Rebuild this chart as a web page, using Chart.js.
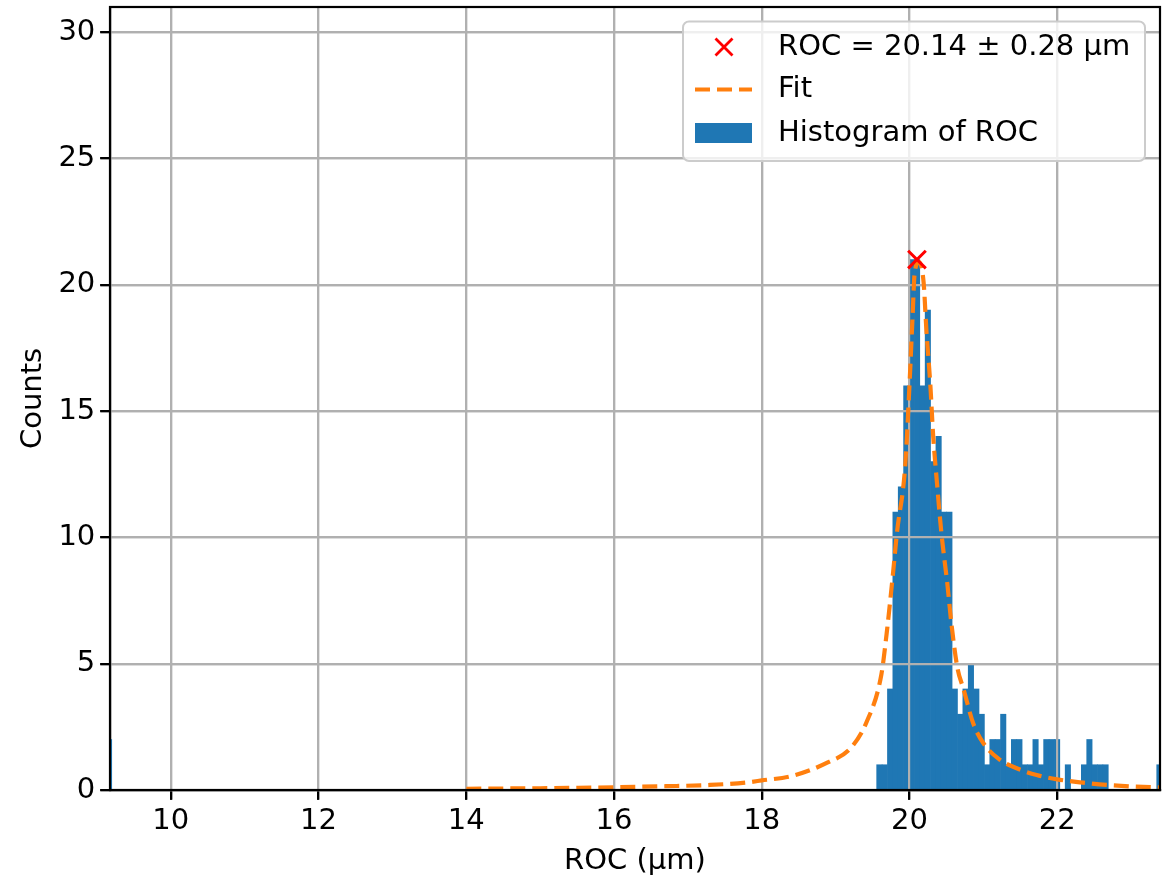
<!DOCTYPE html>
<html>
<head>
<meta charset="utf-8">
<script src="https://cdn.jsdelivr.net/npm/chart.js@4.4.1/dist/chart.umd.min.js"></script>
<style>
  html, body { margin: 0; padding: 0; background: #fff; }
  #rocChart { display: block; }
</style>
</head>
<body>
<canvas id="rocChart" width="1163" height="881"></canvas>
<script>
// histogram of ROC (µm) - bins
const binStart = 19.555;
const binWidth = 0.0729;
const binCounts = [1, 1, 4, 11, 12, 16, 21, 21, 16, 19, 13, 14, 11, 11, 4, 3, 4, 5, 4, 3,
                   1, 2, 2, 3, 1, 2, 2, 1, 1, 2, 1, 2, 2, 2, 0, 1, 0, 0, 1, 2,
                   1, 1, 1, 0, 0, 0, 0, 0, 0, 0, 0, 0, 1];
// lone bin sitting on the left edge
const outlierX = [9.164];
const outlierCounts = [2];

// fit curve
const fitX = [14.0, 15.0, 16.0, 16.7, 17.3, 17.8, 18.0, 18.4, 18.9, 19.2, 19.42, 19.62, 19.69, 19.77,
              19.83, 19.94, 20.0, 20.04, 20.07, 20.13, 20.19, 20.23, 20.28, 20.32, 20.37, 20.43,
              20.51, 20.57, 20.65, 20.73, 20.86, 21.0, 21.22, 21.45, 21.72, 22.0, 22.35, 22.67, 23.0, 23.39];
const fitY = [0.05, 0.07, 0.11, 0.15, 0.2, 0.3, 0.38, 0.55, 1.1, 1.65, 2.7, 4.6, 6.2, 8.4,
              10.2, 12.8, 16.1, 18.7, 20.5, 20.9, 20.1, 18.1, 16.1, 14.0, 12.2, 10.2,
              8.2, 6.5, 4.8, 4.0, 2.65, 1.85, 1.2, 0.86, 0.59, 0.42, 0.29, 0.2, 0.14, 0.1];

// peak marker
const peakX = [20.10];
const peakY = [21];

const xTicks = [10, 12, 14, 16, 18, 20, 22];
const yTicks = [0, 5, 10, 15, 20, 25, 30];
const xRange = [9.177, 23.39];
const yRange = [0, 31];

const histPoints = outlierX.map((x, i) => ({ x: x, y: outlierCounts[i] }))
    .concat(binCounts.map((c, j) => ({ x: binStart + (j + 0.5) * binWidth, y: c })));
const fitPoints = fitX.map((x, i) => ({ x: x, y: fitY[i] }));
const peakPoints = peakX.map((x, i) => ({ x: x, y: peakY[i] }));

Chart.defaults.font.family = 'DejaVu Sans';
Chart.defaults.font.size = 29;
Chart.defaults.color = '#000';

// matplotlib puts the grid above the bars but under the line
const gridOverBars = {
    id: 'gridOverBars',
    afterDatasetDraw(chart, args) {
        if (args.meta.type !== 'bar') return;
        chart.scales.x.drawGrid(chart.chartArea);
        chart.scales.y.drawGrid(chart.chartArea);
    }
};

const frame = {
    id: 'frame',
    afterDatasetsDraw(chart) {
        const { ctx, chartArea: a } = chart;
        ctx.save();
        ctx.strokeStyle = '#000';
        ctx.lineWidth = 2.2;
        ctx.strokeRect(a.left, a.top, a.right - a.left, a.bottom - a.top);
        ctx.restore();
    }
};

const boxLegend = {
    id: 'boxLegend',
    afterDraw(chart) {
        const ctx = chart.ctx;
        const ds = chart.data.datasets;
        const bx = 683, by = 21.5, bw = 462, bh = 139.5;
        ctx.save();
        ctx.beginPath();
        ctx.roundRect(bx, by, bw, bh, 6);
        ctx.fillStyle = 'rgba(255,255,255,0.8)';
        ctx.fill();
        ctx.strokeStyle = '#cccccc';
        ctx.lineWidth = 2;
        ctx.stroke();

        const rows = [47, 89.5, 133];
        // marker
        ctx.strokeStyle = ds[0].borderColor;
        ctx.lineWidth = 2.8;
        ctx.beginPath();
        ctx.moveTo(724 - 8.5, rows[0] - 8.5); ctx.lineTo(724 + 8.5, rows[0] + 8.5);
        ctx.moveTo(724 - 8.5, rows[0] + 8.5); ctx.lineTo(724 + 8.5, rows[0] - 8.5);
        ctx.stroke();
        // dashed fit
        ctx.strokeStyle = ds[1].borderColor;
        ctx.lineWidth = 4.2;
        ctx.setLineDash(ds[1].borderDash);
        ctx.beginPath();
        ctx.moveTo(695, rows[1]); ctx.lineTo(752, rows[1]);
        ctx.stroke();
        ctx.setLineDash([]);
        // histogram patch
        ctx.fillStyle = ds[2].backgroundColor;
        ctx.fillRect(695, rows[2] - 10, 57, 20);

        ctx.fillStyle = '#000';
        ctx.font = '29px "DejaVu Sans"';
        ctx.textBaseline = 'middle';
        ctx.textAlign = 'left';
        for (let i = 0; i < 3; i++) ctx.fillText(ds[i].label, 778, rows[i]);
        ctx.restore();
    }
};

const ctx = document.getElementById('rocChart').getContext('2d');
new Chart(ctx, {
    data: {
        datasets: [{
            type: 'scatter',
            label: 'ROC = 20.14 ± 0.28 µm',
            data: peakPoints,
            pointStyle: 'crossRot',
            pointRadius: 12.5,
            borderWidth: 3,
            borderColor: '#ff0000',
            order: 0
        }, {
            type: 'line',
            label: 'Fit',
            data: fitPoints,
            borderColor: '#ff7f0e',
            borderWidth: 4.2,
            borderDash: [15, 7],
            pointRadius: 0,
            cubicInterpolationMode: 'monotone',
            fill: false,
            order: 1
        }, {
            type: 'bar',
            label: 'Histogram of ROC',
            data: histPoints,
            backgroundColor: '#1f77b4',
            borderWidth: 0,
            barPercentage: 1,
            categoryPercentage: 1,
            order: 2
        }]
    },
    options: {
        responsive: false,
        animation: false,
        layout: { autoPadding: false, padding: { left: 0, right: 3, top: 7, bottom: 0 } },
        plugins: { legend: { display: false }, tooltip: { enabled: false } },
        scales: {
            x: {
                type: 'linear',
                offset: false,
                min: xRange[0],
                max: xRange[1],
                afterBuildTicks: s => { s.ticks = xTicks.map(v => ({ value: v })); },
                afterFit: s => { s.height = 91; s.paddingLeft = 0; s.paddingRight = 0; },
                ticks: { padding: 4, maxRotation: 0, callback: v => String(v) },
                grid: { offset: false, color: '#b0b0b0', lineWidth: 2.2, tickColor: '#000', tickLength: 9.7, tickWidth: 2.2 },
                border: { color: '#000', width: 2.2 },
                title: { display: true, text: 'ROC (μm)', padding: { top: 0, bottom: 2 } }
            },
            y: {
                min: yRange[0],
                max: yRange[1],
                afterBuildTicks: s => { s.ticks = yTicks.map(v => ({ value: v })); },
                afterFit: s => { s.width = 110; s.paddingTop = 0; s.paddingBottom = 0; },
                ticks: { padding: 5 },
                grid: { color: '#b0b0b0', lineWidth: 2.2, tickColor: '#000', tickLength: 9.7, tickWidth: 2.2 },
                border: { color: '#000', width: 2.2 },
                title: { display: true, text: 'Counts', padding: { top: 16, bottom: 0 } }
            }
        }
    },
    plugins: [gridOverBars, frame, boxLegend]
});
</script>
</body>
</html>
